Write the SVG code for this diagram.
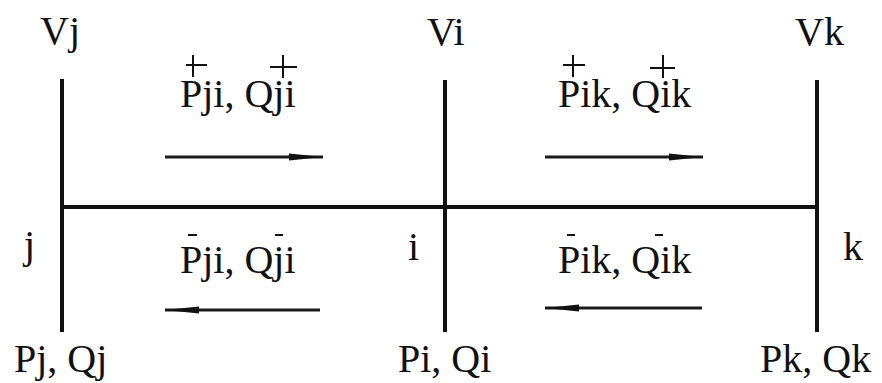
<svg xmlns="http://www.w3.org/2000/svg" width="882" height="383" viewBox="0 0 882 383">
<style>
svg text, text { font-family: 'Liberation Serif', 'Times New Roman', serif !important; font-size: 40px; fill: #111; }
.bus { stroke: #111; stroke-width: 4; fill: none; }
.flow { stroke: #1a1a1a; stroke-width: 3; fill: none; }
.mark { stroke: #111; stroke-width: 2; fill: none; }
</style>
<defs>
<marker id="ah" markerUnits="userSpaceOnUse" markerWidth="34" markerHeight="10" refX="34" refY="5" orient="auto">
<path d="M0,1.5 L34,5 L0,8.5 Z" fill="#111"/>
</marker>
</defs>
<rect width="882" height="383" fill="#fff"/>
<g id="connectors">
<line class="bus" x1="62" y1="207" x2="818" y2="207"/>
<line class="flow" x1="165" y1="157" x2="323" y2="157" marker-end="url(#ah)"/>
<line class="flow" x1="545" y1="157" x2="703" y2="157" marker-end="url(#ah)"/>
<line class="flow" x1="320" y1="310" x2="165" y2="310" marker-end="url(#ah)"/>
<line class="flow" x1="702" y1="308" x2="545" y2="308" marker-end="url(#ah)"/>
</g>
<g id="bus-j">
<line class="bus" x1="62" y1="79" x2="62" y2="332"/>
<text font-family="Liberation Serif" x="40" y="44">Vj</text>
<text font-family="Liberation Serif" x="24" y="258">j</text>
<text font-family="Liberation Serif" x="14" y="372">Pj, Qj</text>
</g>
<g id="bus-i">
<line class="bus" x1="445" y1="80" x2="445" y2="332"/>
<text font-family="Liberation Serif" x="427" y="45">Vi</text>
<text font-family="Liberation Serif" x="408" y="260">i</text>
<text font-family="Liberation Serif" x="398" y="372">Pi, Qi</text>
</g>
<g id="bus-k">
<line class="bus" x1="817" y1="80" x2="817" y2="332"/>
<text font-family="Liberation Serif" x="795" y="45">Vk</text>
<text font-family="Liberation Serif" x="843" y="260">k</text>
<text font-family="Liberation Serif" x="760" y="372">Pk, Qk</text>
</g>
<g id="flow-ji-plus">
<text font-family="Liberation Serif" x="180" y="107">Pji, Qji</text>
<path class="mark" d="M193,55 V77 M186,65 H207 M283,55 V78 M270,67 H297"/>
</g>
<g id="flow-ik-plus">
<text font-family="Liberation Serif" x="558" y="107">Pik, Qik</text>
<path class="mark" d="M573,55 V77 M563,65 H585 M663,55 V78 M650,68 H675"/>
</g>
<g id="flow-ji-minus">
<text font-family="Liberation Serif" x="180" y="273">Pji, Qji</text>
<path class="mark" d="M188,235 H197 M275,235 H283"/>
</g>
<g id="flow-ik-minus">
<text font-family="Liberation Serif" x="558" y="273">Pik, Qik</text>
<path class="mark" d="M567,235 H575 M655,235 H663"/>
</g>
</svg>
